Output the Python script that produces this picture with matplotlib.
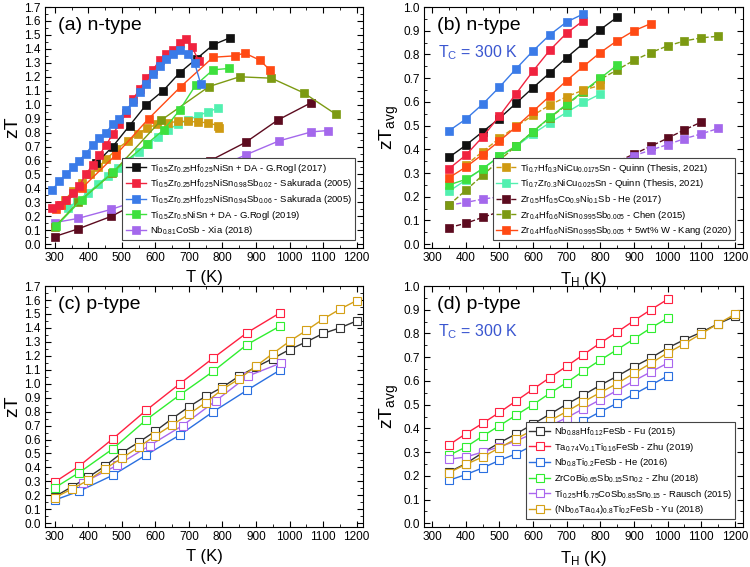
import matplotlib
matplotlib.use("Agg")
import matplotlib.pyplot as plt
from matplotlib.ticker import MultipleLocator

plt.rcParams['font.family'] = ['Liberation Sans', 'DejaVu Sans']
plt.rcParams['mathtext.default'] = 'regular'

# ---------------- (a) n-type zT vs T ----------------
rogl17_T = [423, 473, 523, 573, 623, 673, 723, 773, 823]
rogl17_zT = [0.58, 0.70, 0.85, 1.00, 1.10, 1.23, 1.33, 1.43, 1.48]

sak098_T = [293, 313, 333, 353, 373, 393, 413, 433, 453, 473, 493, 513, 533, 553, 573, 593,
            613, 633, 653, 673, 690, 710, 730]
sak098_zT = [0.26, 0.28, 0.32, 0.37, 0.42, 0.50, 0.57, 0.64, 0.71, 0.79, 0.86, 0.94, 1.04, 1.11,
             1.19, 1.25, 1.32, 1.36, 1.39, 1.44, 1.47, 1.41, 1.31]

sak094_T = [293, 313, 333, 353, 373, 393, 413, 433, 453, 473, 493, 513, 533, 553, 573, 593,
            613, 633, 653, 673, 697, 717, 735]
sak094_zT = [0.39, 0.45, 0.50, 0.55, 0.60, 0.65, 0.71, 0.76, 0.80, 0.86, 0.90, 0.96, 1.02, 1.09,
             1.15, 1.22, 1.28, 1.33, 1.36, 1.39, 1.36, 1.30, 1.15]

rogl19_T = [305, 380, 475, 575, 625, 672, 720, 772, 820]
rogl19_zT = [0.13, 0.32, 0.52, 0.72, 0.82, 0.96, 1.14, 1.25, 1.26]

xia_T = [300, 370, 469, 568, 767, 869, 968, 1065, 1115]
xia_zT = [0.155, 0.185, 0.25, 0.33, 0.53, 0.64, 0.74, 0.805, 0.815]

he17_T = [300, 370, 469, 565, 764, 869, 965, 1065]
he17_zT = [0.055, 0.11, 0.20, 0.32, 0.60, 0.73, 0.89, 1.015]

chen_T = [300, 370, 472, 618, 760, 851, 946, 1042, 1139]
chen_zT = [0.125, 0.30, 0.51, 0.89, 1.13, 1.20, 1.19, 1.085, 0.93]

kang_T = [305, 320, 380, 482, 580, 676, 772, 836, 866, 911, 941]
kang_zT = [0.25, 0.28, 0.40, 0.64, 0.90, 1.13, 1.34, 1.35, 1.37, 1.32, 1.25]

quinn_hf_T = [330, 355, 380, 404, 429, 454, 484, 518, 548, 574, 605, 637, 667, 697, 727, 757, 787, 790]
quinn_hf_zT = [0.32, 0.38, 0.44, 0.50, 0.55, 0.61, 0.68, 0.74, 0.79, 0.83, 0.86, 0.87, 0.88, 0.88,
               0.876, 0.87, 0.85, 0.835]

quinn_zr_T = [340, 367, 400, 429, 459, 490, 520, 550, 578, 608, 637, 667, 697, 727, 757, 787]
quinn_zr_zT = [0.26, 0.31, 0.37, 0.43, 0.49, 0.545, 0.60, 0.66, 0.715, 0.77, 0.82, 0.86, 0.89,
               0.92, 0.95, 0.975]

# ---------------- (b) n-type zTavg vs TH ----------------
rogl17_TH = [350, 400, 450, 500, 550, 600, 650, 700, 750, 800, 850]
rogl17_avg = [0.366, 0.417, 0.474, 0.53, 0.595, 0.66, 0.722, 0.787, 0.847, 0.905, 0.957]

sak098_TH = [350, 400, 450, 500, 550, 600, 650, 700, 750]
sak098_avg = [0.318, 0.375, 0.452, 0.54, 0.635, 0.73, 0.818, 0.89, 0.943]

sak094_TH = [350, 400, 450, 500, 550, 600, 650, 700, 750]
sak094_avg = [0.478, 0.527, 0.59, 0.662, 0.74, 0.815, 0.883, 0.937, 0.971]

rogl19_TH = [350, 400, 450, 500, 550, 600, 650, 700, 750, 800, 850]
rogl19_avg = [0.25, 0.273, 0.318, 0.37, 0.415, 0.475, 0.535, 0.59, 0.645, 0.70, 0.755]

xia_TH = [350, 400, 450, 500, 550, 600, 650, 700, 750, 800, 850, 900, 950, 1000, 1050, 1100, 1150]
xia_avg = [0.165, 0.176, 0.19, 0.20, 0.218, 0.235, 0.26, 0.28, 0.303, 0.325, 0.345, 0.373,
           0.397, 0.42, 0.445, 0.465, 0.488]

he17_TH = [350, 400, 450, 500, 550, 600, 650, 700, 750, 800, 850, 900, 950, 1000, 1050, 1100]
he17_avg = [0.07, 0.088, 0.113, 0.137, 0.165, 0.20, 0.235, 0.265, 0.29, 0.315, 0.348, 0.38,
            0.413, 0.447, 0.482, 0.515]

chen_TH = [350, 400, 450, 500, 550, 600, 650, 700, 750, 800, 850, 900, 950, 1000, 1050, 1100, 1150]
chen_avg = [0.165, 0.227, 0.29, 0.353, 0.415, 0.475, 0.533, 0.587, 0.643, 0.695, 0.735, 0.775,
            0.808, 0.836, 0.857, 0.87, 0.877]

kang_TH = [350, 400, 450, 500, 550, 600, 650, 700, 750, 800, 850, 900, 950]
kang_avg = [0.28, 0.325, 0.378, 0.435, 0.495, 0.56, 0.625, 0.69, 0.75, 0.808, 0.858, 0.90, 0.93]

quinn_hf_TH = [400, 450, 500, 550, 600, 650, 700, 750, 800]
quinn_hf_avg = [0.333, 0.39, 0.446, 0.497, 0.543, 0.587, 0.622, 0.65, 0.67]

quinn_zr_TH = [350, 400, 450, 500, 550, 600, 650, 700, 750, 800]
quinn_zr_avg = [0.223, 0.27, 0.318, 0.37, 0.412, 0.466, 0.512, 0.556, 0.598, 0.633]

# ---------------- (c) p-type zT vs T ----------------
fu_T = [300, 350, 400, 450, 500, 550, 600, 650, 700, 750, 800, 850, 900, 950, 1000, 1050, 1100, 1150, 1200]
fu_zT = [0.19, 0.26, 0.33, 0.41, 0.505, 0.58, 0.66, 0.75, 0.835, 0.91, 0.975, 1.055, 1.12, 1.18,
         1.245, 1.30, 1.36, 1.40, 1.45]

zhu19_T = [300, 373, 473, 573, 673, 773, 873, 973]
zhu19_zT = [0.295, 0.41, 0.605, 0.81, 1.0, 1.185, 1.365, 1.51]

he16_T = [300, 373, 473, 573, 673, 773, 873, 973]
he16_zT = [0.166, 0.23, 0.344, 0.49, 0.633, 0.80, 0.953, 1.10]

zhu18_T = [300, 373, 473, 573, 673, 773, 873, 973]
zhu18_zT = [0.254, 0.363, 0.533, 0.742, 0.92, 1.09, 1.28, 1.415]

rausch_T = [384, 486, 583, 681, 780, 876, 976]
rausch_zT = [0.29, 0.415, 0.557, 0.70, 0.877, 1.055, 1.15]

yu_T = [300, 350, 400, 450, 500, 550, 600, 650, 700, 750, 800, 850, 900, 950, 1000, 1050, 1100, 1150, 1200]
yu_zT = [0.183, 0.244, 0.308, 0.39, 0.467, 0.545, 0.628, 0.704, 0.782, 0.865, 0.96, 1.035, 1.126,
         1.216, 1.304, 1.382, 1.463, 1.534, 1.596]

# ---------------- (d) p-type zTavg vs TH ----------------
TH_1000 = [350, 400, 450, 500, 550, 600, 650, 700, 750, 800, 850, 900, 950, 1000]
TH_1200 = TH_1000 + [1050, 1100, 1150, 1200]
fu_avg = [0.216, 0.251, 0.297, 0.339, 0.377, 0.418, 0.46, 0.502, 0.541, 0.582, 0.62, 0.66, 0.697,
          0.739, 0.774, 0.805, 0.841, 0.872]
zhu19_avg = [0.33, 0.377, 0.421, 0.467, 0.516, 0.565, 0.614, 0.662, 0.711, 0.76, 0.806, 0.854, 0.90, 0.944]
he16_avg = [0.181, 0.205, 0.233, 0.265, 0.293, 0.328, 0.358, 0.397, 0.432, 0.47, 0.506, 0.544, 0.582, 0.621]
zhu18_avg = [0.286, 0.321, 0.367, 0.411, 0.456, 0.50, 0.548, 0.593, 0.642, 0.688, 0.732, 0.777, 0.823, 0.865]
rausch_avg = [0.27, 0.279, 0.30, 0.322, 0.347, 0.378, 0.41, 0.445, 0.483, 0.521, 0.56, 0.60, 0.638, 0.675]
yu_avg = [0.213, 0.248, 0.279, 0.318, 0.356, 0.393, 0.432, 0.471, 0.512, 0.551, 0.589, 0.632, 0.674,
          0.718, 0.757, 0.799, 0.841, 0.881]

lab_rogl17 = 'Ti$_{0.5}$Zr$_{0.25}$Hf$_{0.25}$NiSn + DA - G.Rogl (2017)'
lab_sak098 = 'Ti$_{0.5}$Zr$_{0.25}$Hf$_{0.25}$NiSn$_{0.98}$Sb$_{0.02}$ - Sakurada (2005)'
lab_sak094 = 'Ti$_{0.5}$Zr$_{0.25}$Hf$_{0.25}$NiSn$_{0.94}$Sb$_{0.06}$ - Sakurada (2005)'
lab_rogl19 = 'Ti$_{0.5}$Zr$_{0.5}$NiSn + DA - G.Rogl (2019)'
lab_xia = 'Nb$_{0.81}$CoSb - Xia (2018)'
lab_qhf = 'Ti$_{0.7}$Hf$_{0.3}$NiCu$_{0.0175}$Sn - Quinn (Thesis, 2021)'
lab_qzr = 'Ti$_{0.7}$Zr$_{0.3}$NiCu$_{0.025}$Sn - Quinn (Thesis, 2021)'
lab_he17 = 'Zr$_{0.5}$Hf$_{0.5}$Co$_{0.9}$Ni$_{0.1}$Sb - He (2017)'
lab_chen = 'Zr$_{0.4}$Hf$_{0.6}$NiSn$_{0.995}$Sb$_{0.005}$ - Chen (2015)'
lab_kang = 'Zr$_{0.4}$Hf$_{0.6}$NiSn$_{0.995}$Sb$_{0.005}$ + 5wt% W - Kang (2020)'

lab_fu = 'Nb$_{0.88}$Hf$_{0.12}$FeSb - Fu (2015)'
lab_zhu19 = 'Ta$_{0.74}$V$_{0.1}$Ti$_{0.16}$FeSb - Zhu (2019)'
lab_he16 = 'Nb$_{0.8}$Ti$_{0.2}$FeSb - He (2016)'
lab_zhu18 = 'ZrCoBi$_{0.65}$Sb$_{0.15}$Sn$_{0.2}$ - Zhu (2018)'
lab_rausch = 'Ti$_{0.25}$Hf$_{0.75}$CoSb$_{0.85}$Sn$_{0.15}$ - Rausch (2015)'
lab_yu = '(Nb$_{0.6}$Ta$_{0.4}$)$_{0.8}$Ti$_{0.2}$FeSb - Yu (2018)'

# colours
c_black, c_red, c_blue, c_lime, c_purple = '#111111', '#f0233f', '#3a7be8', '#3ee03e', '#a468ec'
c_maroon, c_olive, c_orange, c_gold, c_aqua = '#5c0b1f', '#7c9a12', '#ff4a14', '#cf9a12', '#52f0b0'
p_black, p_red, p_blue, p_green, p_purple, p_gold = '#333333', '#ff2040', '#2a6fe0', '#30ee30', '#aa66ee', '#d4a017'

fig = plt.figure(figsize=(7.5, 5.67), dpi=100)
ax_a = fig.add_axes([0.060, 0.5626, 0.424, 0.425])
ax_b = fig.add_axes([0.5653, 0.5626, 0.4253, 0.425])
ax_c = fig.add_axes([0.060, 0.0705, 0.424, 0.425])
ax_d = fig.add_axes([0.5653, 0.0705, 0.4253, 0.425])


def filled(ax, x, y, c, label=None, ls='-', line=True):
    ax.plot(x, y, ls if line else 'none', color=c, lw=1.0, marker='s', ms=5.6,
            mfc=c, mec=c, mew=0.5, label=label)


def hollow(ax, x, y, c, label=None):
    ax.plot(x, y, '-', color=c, lw=1.0, marker='s', ms=5.8, mfc='white', mec=c, mew=0.8, label=label)


# (a)
filled(ax_a, he17_T, he17_zT, c_maroon)
filled(ax_a, xia_T, xia_zT, c_purple, lab_xia)
filled(ax_a, quinn_zr_T, quinn_zr_zT, c_aqua, line=False)
filled(ax_a, quinn_hf_T, quinn_hf_zT, c_gold, line=False)
filled(ax_a, chen_T, chen_zT, c_olive)
filled(ax_a, rogl19_T, rogl19_zT, c_lime, lab_rogl19)
filled(ax_a, kang_T, kang_zT, c_orange)
filled(ax_a, rogl17_T, rogl17_zT, c_black, lab_rogl17)
filled(ax_a, sak098_T, sak098_zT, c_red, lab_sak098)
filled(ax_a, sak094_T, sak094_zT, c_blue, lab_sak094)

# (b)
filled(ax_b, he17_TH, he17_avg, c_maroon, lab_he17, ls='--')
filled(ax_b, xia_TH, xia_avg, c_purple, ls='--')
filled(ax_b, quinn_zr_TH, quinn_zr_avg, c_aqua, lab_qzr)
filled(ax_b, chen_TH, chen_avg, c_olive, lab_chen, ls='--')
filled(ax_b, rogl19_TH, rogl19_avg, c_lime)
filled(ax_b, quinn_hf_TH, quinn_hf_avg, c_gold, lab_qhf, ls='--')
filled(ax_b, kang_TH, kang_avg, c_orange, lab_kang)
filled(ax_b, rogl17_TH, rogl17_avg, c_black)
filled(ax_b, sak098_TH, sak098_avg, c_red)
filled(ax_b, sak094_TH, sak094_avg, c_blue)

# (c)
hollow(ax_c, fu_T, fu_zT, p_black)
hollow(ax_c, zhu19_T, zhu19_zT, p_red)
hollow(ax_c, he16_T, he16_zT, p_blue)
hollow(ax_c, zhu18_T, zhu18_zT, p_green)
hollow(ax_c, rausch_T, rausch_zT, p_purple)
hollow(ax_c, yu_T, yu_zT, p_gold)

# (d)
hollow(ax_d, TH_1200, fu_avg, p_black, lab_fu)
hollow(ax_d, TH_1000, zhu19_avg, p_red, lab_zhu19)
hollow(ax_d, TH_1000, he16_avg, p_blue, lab_he16)
hollow(ax_d, TH_1000, zhu18_avg, p_green, lab_zhu18)
hollow(ax_d, TH_1000, rausch_avg, p_purple, lab_rausch)
hollow(ax_d, TH_1200, yu_avg, p_gold, lab_yu)

for ax, top, xl, yl in [(ax_a, 1.7, 'T (K)', 'zT'), (ax_b, 1.0, 'T$_H$ (K)', 'zT$_{avg}$'),
                        (ax_c, 1.7, 'T (K)', 'zT'), (ax_d, 1.0, 'T$_H$ (K)', 'zT$_{avg}$')]:
    if ax in (ax_a, ax_c):
        ax.set_xlim(271, 1219)
    else:
        ax.set_xlim(276, 1224)
    ax.set_ylim(-0.016 * top, top)
    ax.xaxis.set_major_locator(MultipleLocator(100))
    ax.xaxis.set_minor_locator(MultipleLocator(50))
    ax.yaxis.set_major_locator(MultipleLocator(0.1))
    ax.yaxis.set_minor_locator(MultipleLocator(0.05))
    ax.tick_params(which='both', direction='in', top=True, right=True, labelsize=8.5, pad=3)
    ax.tick_params(which='major', length=4, width=0.8)
    ax.tick_params(which='minor', length=2, width=0.6)
    ax.set_xlabel(xl, fontsize=12, labelpad=4)
    ax.set_ylabel(yl, fontsize=14, labelpad=2)
    for s in ax.spines.values():
        s.set_linewidth(0.8)

ax_a.text(0.04, 0.925, '(a) n-type', transform=ax_a.transAxes, fontsize=14, va='center')
ax_b.text(0.04, 0.925, '(b) n-type', transform=ax_b.transAxes, fontsize=14, va='center')
ax_c.text(0.04, 0.925, '(c) p-type', transform=ax_c.transAxes, fontsize=14, va='center')
ax_d.text(0.04, 0.925, '(d) p-type', transform=ax_d.transAxes, fontsize=14, va='center')
ax_b.text(0.045, 0.81, 'T$_C$ = 300 K', transform=ax_b.transAxes, fontsize=11.5, va='center', color='#3a56d0')
ax_d.text(0.045, 0.81, 'T$_C$ = 300 K', transform=ax_d.transAxes, fontsize=11.5, va='center', color='#3a56d0')

leg_kw = dict(loc='lower right', fontsize=6.8, frameon=True, fancybox=False, framealpha=1,
              edgecolor='#444444', borderaxespad=0.8, borderpad=0.35, labelspacing=0.28,
              handlelength=2.2, handletextpad=0.4)
h, l = ax_a.get_legend_handles_labels()
order = [l.index(x) for x in [lab_rogl17, lab_sak098, lab_sak094, lab_rogl19, lab_xia]]
ax_a.legend([h[i] for i in order], [l[i] for i in order], **leg_kw).get_frame().set_linewidth(0.8)
h, l = ax_b.get_legend_handles_labels()
order = [l.index(x) for x in [lab_qhf, lab_qzr, lab_he17, lab_chen, lab_kang]]
ax_b.legend([h[i] for i in order], [l[i] for i in order], **leg_kw).get_frame().set_linewidth(0.8)
ax_d.legend(**leg_kw).get_frame().set_linewidth(0.8)

fig.savefig('out.png', dpi=100)
